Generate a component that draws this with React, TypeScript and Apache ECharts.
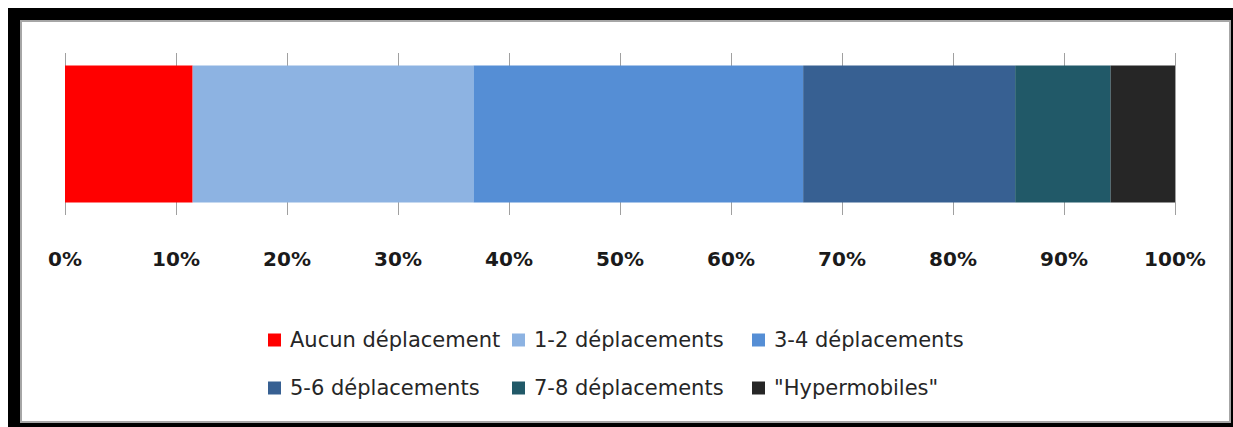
import React, { useEffect, useRef } from "react";
import * as echarts from "echarts";

// Share of respondents by number of trips (percent of total)
const categories = ["Déplacements"];
const seriesNames = [
  "Aucun déplacement",
  "1-2 déplacements",
  "3-4 déplacements",
  "5-6 déplacements",
  "7-8 déplacements",
  "\"Hypermobiles\"",
];
const shares = [11.5, 25.3, 29.7, 19.1, 8.6, 5.8];
const colors = ["#ff0000", "#8db3e2", "#558ed5", "#376092", "#215968", "#262626"];

// legend slots: [left, top] for each entry, three per row
const legendSlots: [number, number][] = [
  [268, 329],
  [512, 329],
  [752, 329],
  [268, 377],
  [512, 377],
  [752, 377],
];

export default function App() {
  const ref = useRef<HTMLDivElement>(null);

  useEffect(() => {
    if (!ref.current) return;
    const chart = echarts.init(ref.current, undefined, { renderer: "svg" });

    const option: echarts.EChartsOption = {
      animation: false,
      backgroundColor: "#ffffff",
      graphic: [
        {
          type: "rect",
          silent: true,
          z: -10,
          shape: { x: 8, y: 8, width: 1225, height: 419 },
          style: { fill: "#000000" },
        },
        {
          type: "rect",
          silent: true,
          z: -9,
          shape: { x: 21, y: 21, width: 1209, height: 401 },
          style: { fill: "#ffffff", stroke: "#a6a6a6", lineWidth: 2 },
        },
      ],
      grid: { left: 65, right: 58, top: 53, height: 162, containLabel: false },
      xAxis: {
        type: "value",
        min: 0,
        max: 100,
        interval: 10,
        axisLine: { show: false },
        axisTick: { show: false },
        splitLine: { show: true, lineStyle: { color: "#a0a0a0", width: 1 } },
        axisLabel: {
          formatter: "{value}%",
          margin: 34,
          fontFamily: "DejaVu Sans",
          fontWeight: "bold",
          fontSize: 20,
          color: "#1a1a1a",
        },
      },
      yAxis: {
        type: "category",
        data: categories,
        show: false,
      },
      legend: seriesNames.map((name, i) => ({
        left: legendSlots[i][0],
        top: legendSlots[i][1],
        padding: 0,
        data: [name],
        icon: "rect",
        itemWidth: 13,
        itemHeight: 13,
        selectedMode: false,
        textStyle: {
          fontFamily: "DejaVu Sans",
          fontSize: 21,
          lineHeight: 22,
          color: "#262626",
          padding: [0, 0, 0, 4],
        },
      })),
      series: seriesNames.map((name, i) => ({
        name,
        type: "bar",
        stack: "total",
        barWidth: 137,
        itemStyle: { color: colors[i] },
        data: [shares[i]],
      })),
    };

    chart.setOption(option);
    return () => chart.dispose();
  }, []);

  return (
    <div
      ref={ref}
      style={{ position: "absolute", left: 0, top: 0, width: 1233, height: 427 }}
    />
  );
}
